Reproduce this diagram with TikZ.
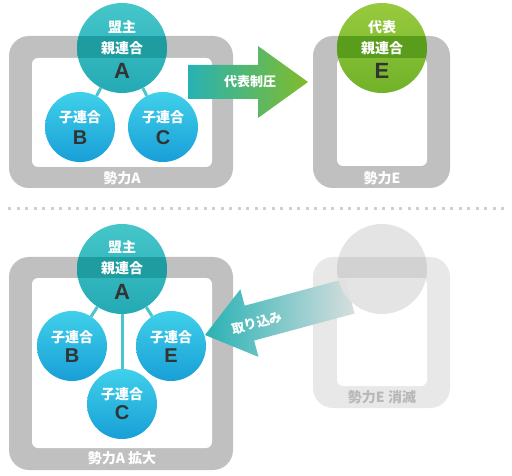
\documentclass[tikz,border=0pt]{standalone}
\usepackage{fontspec}
\setmainfont{Noto Sans CJK JP}
\newfontfamily\latf{Liberation Sans}
\definecolor{framegray}{HTML}{C0C0C0}
\definecolor{framelight}{HTML}{E8E8E8}
\definecolor{tealtop}{HTML}{45C6C9}
\definecolor{tealbot}{HTML}{24AAB4}
\definecolor{tealband}{HTML}{1E9CA0}
\definecolor{subtop}{HTML}{40D0EA}
\definecolor{subbot}{HTML}{189FD7}
\definecolor{greentop}{HTML}{98CA3E}
\definecolor{greenbot}{HTML}{70B229}
\definecolor{greenband}{HTML}{5A9D1C}
\definecolor{gcircle}{HTML}{E2E2E2}
\definecolor{gband}{HTML}{D2D2D2}
\definecolor{conncol}{HTML}{4CC4CC}
\definecolor{lettercol}{HTML}{333333}
\definecolor{arrteal}{HTML}{28B2B4}
\definecolor{arrgreen}{HTML}{80BC2A}
\definecolor{arrfade}{HTML}{D8DEDE}
\definecolor{dotcol}{HTML}{CFCFCF}
\definecolor{fadetext}{HTML}{B8B8B8}
\begin{document}
\begin{tikzpicture}[x=1pt,y=-1pt,
  bigA/.style={circle,minimum size=90pt,inner sep=0pt,top color=tealtop,bottom color=tealbot},
  bigE/.style={circle,minimum size=90pt,inner sep=0pt,top color=greentop,bottom color=greenbot},
  sub/.style={circle,minimum size=70pt,inner sep=0pt,top color=subtop,bottom color=subbot},
  jtxt/.style={text=white,font=\bfseries\fontsize{14}{14}\selectfont,inner sep=0pt},
  bigltr/.style={text=lettercol,font=\latf\bfseries\fontsize{22}{22}\selectfont,inner sep=0pt},
  ltr/.style={text=lettercol,font=\latf\bfseries\fontsize{20}{20}\selectfont,inner sep=0pt},
  conn/.style={draw=conncol,line width=3pt},
  flabel/.style={text=white,font=\bfseries\fontsize{14}{14}\selectfont,inner sep=0pt},
  arrlabel/.style={text=white,font=\bfseries\fontsize{13}{13}\selectfont,inner sep=0pt}]
\useasboundingbox (0,0) rectangle (512,476);
\fill[white] (0,0) rectangle (512,476);

% ---------------- top row ----------------
% frame A
\fill[framegray, rounded corners=20pt] (9,36) rectangle (233,188);
\fill[white, rounded corners=6pt] (32,58) rectangle (212,167);
\node[flabel] (labA1) at (122,178.5) {勢力A};
% frame E
\fill[framegray, rounded corners=20pt] (313,36) rectangle (450,188);
\fill[white, rounded corners=6pt] (337,58) rectangle (427,166);
\node[flabel] (labE1) at (382,178.5) {勢力E};

% green arrow
\shade[left color=arrteal, right color=arrgreen]
  (188,65) -- (258,65) -- (258,46) -- (308,82) -- (258,118) -- (258,99) -- (188,99) -- cycle;
\node[arrlabel] (tA) at (250,82) {代表制圧};

% circles top
\node[bigA] (A1) at (122,48) {};
\node[sub] (B1) at (80,127) {};
\node[sub] (C1) at (163,127) {};
\draw[conn] (A1) -- (B1);
\draw[conn] (A1) -- (C1);
\begin{scope}
  \clip (A1.center) circle[radius=45pt];
  \fill[tealband] (0,36) rectangle (512,58);
\end{scope}
\node[jtxt] at (122,27) {盟主};
\node[jtxt] at (122,48) {親連合};
\node[bigltr] at (122,71) {A};
\node[jtxt] at (80,117) {子連合};
\node[ltr] at (80,138) {B};
\node[jtxt] at (163,117) {子連合};
\node[ltr] at (163,138) {C};

\node[bigE] (E1) at (382,48) {};
\begin{scope}
  \clip (E1.center) circle[radius=45pt];
  \fill[greenband] (0,36) rectangle (512,58);
\end{scope}
\node[jtxt] at (382,27) {代表};
\node[jtxt] at (382,48) {親連合};
\node[bigltr] at (382,71) {E};

% dotted separator
\coordinate (dl) at (8,209);
\coordinate (dr) at (506,209);
\draw[dotcol, line width=3pt, dash pattern=on 3pt off 5.5pt] (dl) -- (dr);

% ---------------- bottom row ----------------
\fill[framegray, rounded corners=20pt] (9,257) rectangle (233,470);
\fill[white, rounded corners=6pt] (32,278) rectangle (212,448);
\node[flabel] (labA2) at (122,458.5) {勢力A 拡大};

\fill[framelight, rounded corners=20pt] (313,257) rectangle (450,408);
\fill[white, rounded corners=6pt] (337,278) rectangle (427,386);
\node[flabel, text=fadetext] (labE2) at (382,397) {勢力E 消滅};

% arrow 取り込み
\shade[left color=arrteal, right color=arrfade]
  (205,335) -- (240.3,289.3) -- (244.7,305.7) -- (345.2,278.7) -- (354.6,313.5)
  -- (254.1,340.5) -- (258.5,356.9) -- cycle;
\node[arrlabel, rotate=15] (tB) at (257,323) {取り込み};

% faded circle E
\node[circle, minimum size=90pt, inner sep=0pt, fill=gcircle, fill opacity=0.92] (E2) at (382,269) {};
\begin{scope}
  \clip (E2.center) circle[radius=45pt];
  \fill[gband, fill opacity=0.95] (0,257) rectangle (512,278);
\end{scope}

% circles bottom
\node[bigA] (A2) at (122,269) {};
\node[sub] (B2) at (72,346) {};
\node[sub] (E3) at (171,346) {};
\node[sub] (C2) at (122,404) {};
\draw[conn] (A2) -- (B2);
\draw[conn] (A2) -- (E3);
\draw[conn] (A2) -- (C2);
\begin{scope}
  \clip (A2.center) circle[radius=45pt];
  \fill[tealband] (0,257) rectangle (512,278);
\end{scope}
\node[jtxt] at (122,247) {盟主};
\node[jtxt] at (122,268) {親連合};
\node[bigltr] at (122,292) {A};
\node[jtxt] at (72,337) {子連合};
\node[ltr] at (72,356) {B};
\node[jtxt] at (171,337) {子連合};
\node[ltr] at (171,356) {E};
\node[jtxt] at (122,394) {子連合};
\node[ltr] at (122,413) {C};
\end{tikzpicture}
\end{document}
